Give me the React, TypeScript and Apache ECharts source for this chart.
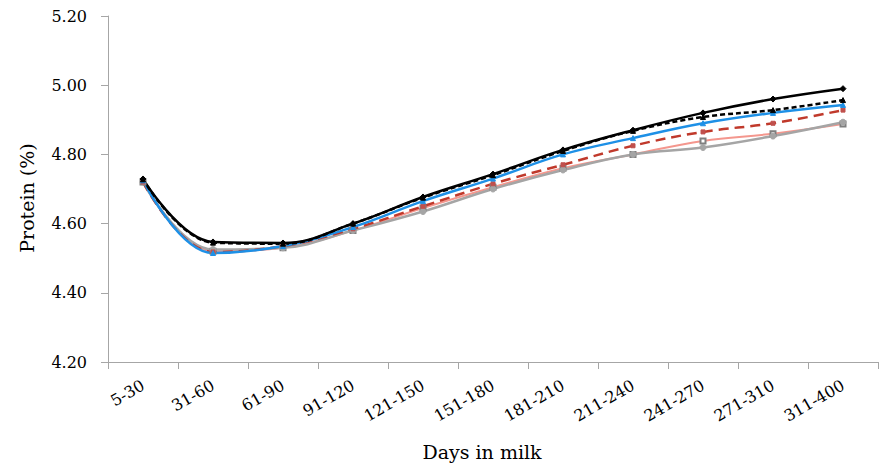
import React, { useEffect, useRef } from "react";
import * as echarts from "echarts";

const categories = ["5-30", "31-60", "61-90", "91-120", "121-150", "151-180", "181-210", "211-240", "241-270", "271-310", "311-400"];
const yTicks = [4.2, 4.4, 4.6, 4.8, 5.0, 5.2];

const pinkSolid = [4.72, 4.52, 4.53, 4.58, 4.645, 4.705, 4.76, 4.80, 4.839, 4.86, 4.888];
const graySolid = [4.72, 4.525, 4.53, 4.58, 4.635, 4.70, 4.755, 4.80, 4.82, 4.853, 4.893];
const redDashed = [4.72, 4.518, 4.535, 4.585, 4.65, 4.715, 4.77, 4.825, 4.865, 4.89, 4.928];
const blueSolid = [4.725, 4.515, 4.535, 4.59, 4.665, 4.73, 4.80, 4.847, 4.89, 4.92, 4.943];
const blackDashed = [4.728, 4.545, 4.542, 4.60, 4.675, 4.74, 4.81, 4.868, 4.908, 4.928, 4.957];
const blackSolid = [4.729, 4.547, 4.544, 4.60, 4.677, 4.743, 4.813, 4.87, 4.92, 4.96, 4.99];

const FONT = "DejaVu Serif";

export default function App() {
  const ref = useRef<HTMLDivElement>(null);
  useEffect(() => {
    if (!ref.current) return;
    const chart = echarts.init(ref.current, undefined, { renderer: "svg" });
    const mk = (name: string, data: number[], color: string, type: any, symbol: string, size: number, width: number, symColor?: string) => ({
      name,
      type: "line",
      data,
      smooth: 0.4,
      symbol,
      symbolSize: size,
      showSymbol: true,
      lineStyle: { color, width, type },
      itemStyle: { color: symColor || color, borderColor: symColor || color },
      z: 2,
    });
    chart.setOption({
      animation: false,
      grid: { left: 108, right: 6, top: 16, bottom: 109, containLabel: false },
      xAxis: {
        type: "category",
        data: categories,
        boundaryGap: true,
        axisLine: { lineStyle: { color: "#a6a6a6", width: 1 } },
        axisTick: { show: true, length: 7, lineStyle: { color: "#a6a6a6" } },
        axisLabel: { rotate: 30, margin: 22, fontFamily: FONT, fontSize: 16, color: "#000", interval: 0 },
        splitLine: { show: false },
      },
      yAxis: {
        type: "value",
        min: yTicks[0],
        max: yTicks[yTicks.length - 1],
        interval: 0.2,
        axisLine: { show: true, lineStyle: { color: "#a6a6a6", width: 1 } },
        axisTick: { show: true, length: 7, lineStyle: { color: "#a6a6a6" } },
        axisLabel: { formatter: (v: number) => v.toFixed(2), fontFamily: FONT, fontSize: 16, color: "#000", margin: 21 },
        splitLine: { show: false },
      },
      graphic: [
        {
          type: "text",
          x: 27,
          y: 198,
          rotation: Math.PI / 2,
          style: { text: "Protein (%)", fontFamily: FONT, fontSize: 19, fill: "#000", align: "center", verticalAlign: "middle" },
        },
        {
          type: "text",
          x: 482,
          y: 452,
          style: { text: "Days in milk", fontFamily: FONT, fontSize: 19, fill: "#000", align: "center", verticalAlign: "middle" },
        },
      ],
      series: [
        mk("Pink", pinkSolid, "#f4978e", "solid", "emptyRect", 5, 2, "#7f7f7f"),
        mk("Gray", graySolid, "#a5a5a5", "solid", "circle", 6, 2.5),
        mk("Red dashed", redDashed, "#c0392b", [10, 6], "rect", 4, 2.5, "#c0504d"),
        mk("Blue", blueSolid, "#1e90e6", "solid", "triangle", 5, 2.5),
        mk("Black dashed", blackDashed, "#000000", [5, 3], "triangle", 5, 2.5),
        mk("Black", blackSolid, "#000000", "solid", "diamond", 6, 2.5),
      ],
    });
    return () => chart.dispose();
  }, []);
  return <div ref={ref} style={{ width: 884, height: 471, position: "absolute", left: 0, top: 0 }} />;
}
